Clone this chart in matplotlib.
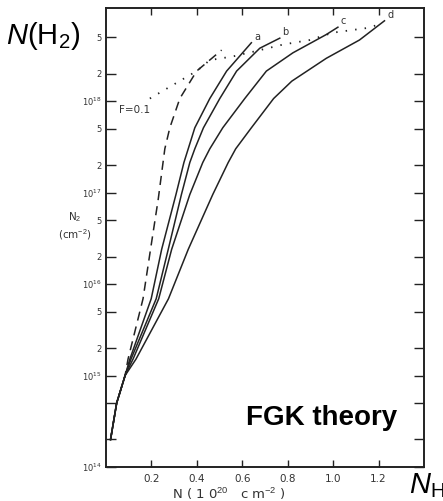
import numpy as np
import matplotlib.pyplot as plt

plt.rcParams['mathtext.fontset'] = 'custom'
plt.rcParams['mathtext.rm'] = 'Liberation Sans'
plt.rcParams['mathtext.it'] = 'Liberation Sans:italic'
plt.rcParams['mathtext.bf'] = 'Liberation Sans:bold'

# N in 1e20 cm^-2, log10 N2 in cm^-2
start_x = [0.020, 0.047, 0.084]
start_y = [14.30, 14.70, 15.00]

dash_x = [0.097, 0.163, 0.196, 0.230, 0.259, 0.281, 0.325, 0.399, 0.509]
dash_y = [15.18, 15.84, 16.38, 16.93, 17.48, 17.71, 18.03, 18.33, 18.56]

a_x = [0.105, 0.199, 0.245, 0.308, 0.343, 0.362, 0.391, 0.457, 0.531, 0.640]
a_y = [15.18, 15.84, 16.38, 16.98, 17.33, 17.48, 17.71, 18.03, 18.33, 18.64]

b_x = [0.110, 0.221, 0.274, 0.332, 0.369, 0.391, 0.429, 0.501, 0.575, 0.677, 0.765]
b_y = [15.18, 15.84, 16.38, 16.98, 17.33, 17.48, 17.71, 18.03, 18.33, 18.58, 18.69]

c_x = [0.119, 0.232, 0.289, 0.369, 0.426, 0.457, 0.514, 0.611, 0.706, 0.823, 0.970, 1.021]
c_y = [15.18, 15.84, 16.38, 16.98, 17.33, 17.48, 17.71, 18.03, 18.33, 18.53, 18.73, 18.81]

d_x = [0.132, 0.275, 0.362, 0.470, 0.538, 0.571, 0.640, 0.738, 0.818, 0.970, 1.116, 1.226]
d_y = [15.18, 15.84, 16.38, 16.98, 17.33, 17.48, 17.71, 18.03, 18.22, 18.47, 18.67, 18.88]

f_x = [0.193, 0.399, 0.457, 0.558, 0.662, 0.779, 0.897, 0.999, 1.146, 1.204]
f_y = [18.03, 18.33, 18.45, 18.49, 18.55, 18.62, 18.67, 18.75, 18.80, 18.84]

curve_names = ['a', 'b', 'c', 'd']
xticks = [0.2, 0.4, 0.6, 0.8, 1.0, 1.2]
xtick_labels = ['0.2', '0.4', '0.6', '0.8', '1.0', '1.2']
ymajor = [1e14, 1e15, 1e16, 1e17, 1e18]
ymajor_labels = ['$\\mathregular{10^{14}}$', '$\\mathregular{10^{15}}$', '$\\mathregular{10^{16}}$',
                 '$\\mathregular{10^{17}}$', '$\\mathregular{10^{18}}$']
yminor = [2e14, 5e14, 2e15, 5e15, 2e16, 5e16, 2e17, 5e17, 2e18, 5e18]
yminor_labels = ['', '', '2', '5', '2', '5', '2', '5', '2', '5']

W, H = 443, 501
ink = '#222222'
grey = '#333333'

fig = plt.figure(figsize=(W / 100, H / 100), dpi=100)
ax = fig.add_axes([106 / W, 1 - 467 / H, (424 - 106) / W, (467 - 8) / H])


def full(xs, ys):
    return np.array(start_x + xs), 10 ** np.array(start_y + ys)


x, y = full(dash_x, dash_y)
ax.plot(x, y, color=ink, lw=1.1, ls=(0, (6, 4)))

for name, xs, ys in zip(curve_names, [a_x, b_x, c_x, d_x], [a_y, b_y, c_y, d_y]):
    x, y = full(xs, ys)
    ax.plot(x, y, color=ink, lw=1.1)
    ax.annotate(name, xy=(x[-1], y[-1]), xytext=(2, 2), textcoords='offset points',
                fontsize=7, color=grey, family='DejaVu Sans')

ax.plot(f_x, 10 ** np.array(f_y), color=ink, lw=1.3, ls=(0, (0.8, 4.5)))
ax.annotate('F=0.1', xy=(f_x[0], 10 ** f_y[0]), xytext=(0, -8), textcoords='offset points',
            fontsize=7.5, color=grey, ha='right', va='center', family='DejaVu Sans')

ax.set_yscale('log')
ax.set_xlim(0, 1.40)
ax.set_ylim(1e14, 10 ** 19.02)
ax.set_xticks(xticks, xtick_labels)
ax.set_yticks(ymajor, ymajor_labels)
ax.set_yticks(yminor, yminor_labels, minor=True)
ax.tick_params(which='both', direction='in', top=True, right=True, color=ink,
               labelcolor=grey, width=1.0)
ax.tick_params(axis='y', which='both', length=7, pad=3, labelsize=6)
ax.tick_params(axis='x', which='both', length=5, pad=5, labelsize=7.5)
for s in ax.spines.values():
    s.set_color(ink)
    s.set_linewidth(1.4)

fig.text(75 / W, 1 - 226 / H, 'N$_2$\n(cm$^{-2}$)', fontsize=7.5, color=grey,
         ha='center', va='center', linespacing=1.3, family='DejaVu Sans')
fig.text(229 / W, 1 - 494 / H, 'N ( 1 0$^{20}$   c m$^{-2}$ )', fontsize=9.5, color=grey,
         ha='center', va='center', family='DejaVu Sans')

# overlay annotations
fig.text(6 / W, 1 - 44 / H, '$N$(H$_2$)', fontsize=21, family='Liberation Sans',
         ha='left', va='baseline')
fig.text(397 / W, 1 - 425 / H, 'FGK theory', fontsize=20, family='Liberation Sans',
         fontweight='bold', ha='right', va='baseline')
fig.text(409 / W, 1 - 493 / H, '$N$$_\\mathregular{H}$', fontsize=21, family='Liberation Sans',
         ha='left', va='baseline')

fig.savefig('out.png', dpi=100)
